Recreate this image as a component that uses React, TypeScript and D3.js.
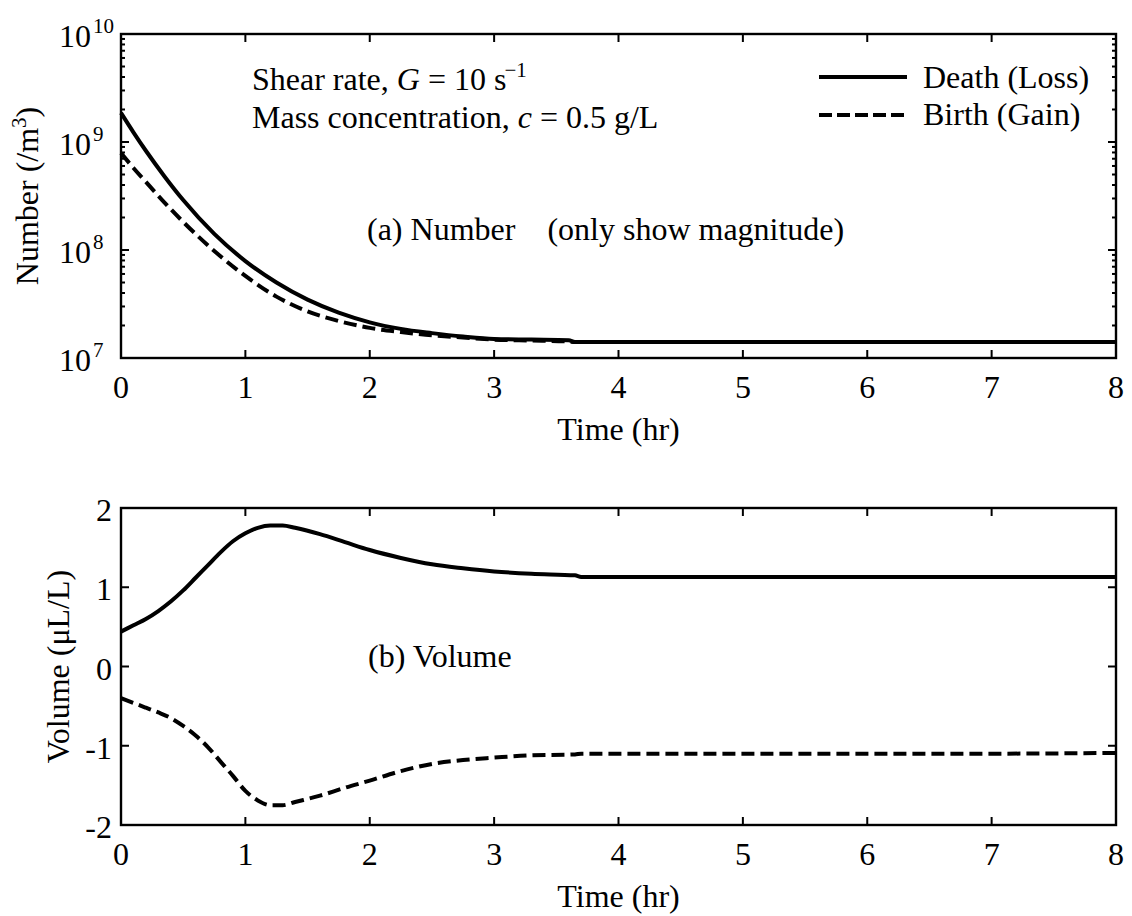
import React from "react";
import * as d3 from "d3";

// ---------- data ----------
const timeNumber = [0, 0.1, 0.2, 0.35, 0.5, 0.75, 1, 1.25, 1.5, 1.75, 2, 2.25, 2.5, 2.75, 3, 3.3, 3.6, 3.65, 4, 5, 6, 7, 8];
const deathNumber = [1.86e9, 1.23e9, 8.3e8, 4.8e8, 2.9e8, 1.41e8, 7.9e7, 5.0e7, 3.47e7, 2.63e7, 2.14e7, 1.86e7, 1.7e7, 1.58e7, 1.5e7, 1.48e7, 1.46e7, 1.41e7, 1.41e7, 1.41e7, 1.41e7, 1.41e7, 1.41e7];
const birthNumber = [7.9e8, 5.75e8, 4.27e8, 2.75e8, 1.82e8, 9.8e7, 5.75e7, 3.7e7, 2.7e7, 2.2e7, 1.9e7, 1.74e7, 1.62e7, 1.55e7, 1.48e7, 1.45e7, 1.42e7, 1.41e7, 1.41e7, 1.41e7, 1.41e7, 1.41e7, 1.41e7];

const timeVolume = [0, 0.1, 0.2, 0.3, 0.4, 0.5, 0.6, 0.7, 0.8, 0.9, 1.0, 1.1, 1.2, 1.3, 1.4, 1.6, 1.8, 2.0, 2.25, 2.5, 2.75, 3.0, 3.3, 3.65, 3.7, 4, 5, 6, 7, 8];
const deathVolume = [0.44, 0.52, 0.6, 0.7, 0.82, 0.96, 1.12, 1.28, 1.44, 1.58, 1.68, 1.75, 1.78, 1.78, 1.75, 1.67, 1.57, 1.47, 1.37, 1.29, 1.24, 1.2, 1.17, 1.15, 1.13, 1.13, 1.13, 1.13, 1.13, 1.13];
const birthVolume = [-0.4, -0.46, -0.52, -0.58, -0.65, -0.75, -0.87, -1.02, -1.2, -1.38, -1.57, -1.69, -1.75, -1.75, -1.71, -1.63, -1.53, -1.44, -1.32, -1.23, -1.18, -1.15, -1.12, -1.11, -1.1, -1.1, -1.1, -1.1, -1.1, -1.09];

const xTickValues = [0, 1, 2, 3, 4, 5, 6, 7, 8];
const logTickExponents = [7, 8, 9, 10];
const volumeTickValues = [-2, -1, 0, 1, 2];
const legendLabels = ["Death (Loss)", "Birth (Gain)"];

// ---------- layout ----------
const W = 1132;
const H = 916;
const X0 = 121;
const X1 = 1116;
const TOP = { y0: 34, y1: 358 };
const BOT = { y0: 508, y1: 825 };
const FONT = "'Liberation Serif', 'Times New Roman', serif";
const FS = 32;
const SUP = 21;
const DASH = "13,6";
const LW = 4;

const x = d3.scaleLinear().domain([0, 8]).range([X0, X1]);
const yTop = d3.scaleLog().domain([1e7, 1e10]).range([TOP.y1, TOP.y0]);
const yBot = d3.scaleLinear().domain([-2, 2]).range([BOT.y1, BOT.y0]);

const lineTop = d3
  .line<[number, number]>()
  .x((d) => x(d[0]))
  .y((d) => yTop(d[1]))
  .curve(d3.curveMonotoneX);
const lineBot = d3
  .line<[number, number]>()
  .x((d) => x(d[0]))
  .y((d) => yBot(d[1]))
  .curve(d3.curveMonotoneX);

const zip = (a: number[], b: number[]) => a.map((v, i) => [v, b[i]] as [number, number]);

const MAJ = 8;
const MIN = 4;

function Box({ y0, y1 }: { y0: number; y1: number }) {
  return (
    <rect x={X0} y={y0} width={X1 - X0} height={y1 - y0} fill="none" stroke="#000" strokeWidth={2.4} />
  );
}

function XTicks({ y0, y1 }: { y0: number; y1: number }) {
  return (
    <g stroke="#000" strokeWidth={2}>
      {xTickValues.slice(1, -1).map((t) => (
        <g key={t}>
          <line x1={x(t)} x2={x(t)} y1={y1} y2={y1 - MAJ} />
          <line x1={x(t)} x2={x(t)} y1={y0} y2={y0 + MAJ} />
        </g>
      ))}
    </g>
  );
}

function XLabels({ y1 }: { y1: number }) {
  return (
    <g fontFamily={FONT} fontSize={FS} textAnchor="middle" fill="#000">
      {xTickValues.map((t) => (
        <text key={t} x={x(t)} y={y1 + 40}>
          {t}
        </text>
      ))}
      <text x={(X0 + X1) / 2} y={y1 + 82}>
        Time (hr)
      </text>
    </g>
  );
}

export default function App() {
  const minorLog: number[] = [];
  for (const e of [7, 8, 9]) {
    for (let m = 2; m <= 9; m++) minorLog.push(m * Math.pow(10, e));
  }
  return (
    <svg
      width={W}
      height={H}
      viewBox={`0 0 ${W} ${H}`}
      style={{ position: "fixed", left: 0, top: 0, background: "#fff", display: "block" }}
    >
      <rect x={0} y={0} width={W} height={H} fill="#fff" />

      {/* ---------- top panel ---------- */}
      <Box y0={TOP.y0} y1={TOP.y1} />
      <XTicks y0={TOP.y0} y1={TOP.y1} />
      <g stroke="#000" strokeWidth={2}>
        {logTickExponents.map((e) => {
          const yy = yTop(Math.pow(10, e));
          return (
            <g key={e}>
              <line x1={X0} x2={X0 + MAJ} y1={yy} y2={yy} />
              <line x1={X1} x2={X1 - MAJ} y1={yy} y2={yy} />
            </g>
          );
        })}
        {minorLog.map((v) => (
          <g key={v}>
            <line x1={X0} x2={X0 + MIN} y1={yTop(v)} y2={yTop(v)} />
            <line x1={X1} x2={X1 - MIN} y1={yTop(v)} y2={yTop(v)} />
          </g>
        ))}
      </g>
      <g fontFamily={FONT} fill="#000">
        {logTickExponents.map((e) => {
          const yy = yTop(Math.pow(10, e));
          return (
            <g key={e}>
              <text x={91} y={yy + 13} fontSize={FS} textAnchor="end">
                10
              </text>
              <text x={93} y={yy - 1} fontSize={SUP} textAnchor="start">
                {e}
              </text>
            </g>
          );
        })}
      </g>
      <XLabels y1={TOP.y1} />
      <text
        transform={`translate(38,${(TOP.y0 + TOP.y1) / 2}) rotate(-90)`}
        fontFamily={FONT}
        fontSize={FS}
        textAnchor="middle"
        fill="#000"
      >
        Number (/m<tspan dy={-12} fontSize={SUP}>3</tspan>
        <tspan dy={12}>)</tspan>
      </text>

      <path d={lineTop(zip(timeNumber, deathNumber)) || ""} fill="none" stroke="#000" strokeWidth={LW} />
      <path
        d={lineTop(zip(timeNumber, birthNumber)) || ""}
        fill="none"
        stroke="#000"
        strokeWidth={LW}
        strokeDasharray={DASH}
      />

      {/* annotations */}
      <g fontFamily={FONT} fontSize={FS} fill="#000">
        <text x={252} y={90}>
          Shear rate, <tspan fontStyle="italic">G</tspan> = 10 s<tspan dx={-2} dy={-13} fontSize={SUP}>−1</tspan>
        </text>
        <text x={252} y={128}>
          Mass concentration, <tspan fontStyle="italic">c</tspan> = 0.5 g/L
        </text>
        <text x={367} y={240} xmlSpace="preserve">
          (a) Number{"    "}(only show magnitude)
        </text>
        <text x={368} y={667}>
          (b) Volume
        </text>
      </g>

      {/* legend */}
      <g fontFamily={FONT} fontSize={FS} fill="#000">
        <line x1={819} x2={907} y1={77} y2={77} stroke="#000" strokeWidth={LW} />
        <text x={923} y={88}>
          {legendLabels[0]}
        </text>
        <line x1={819} x2={907} y1={115} y2={115} stroke="#000" strokeWidth={LW} strokeDasharray="13,5" />
        <text x={923} y={125}>
          {legendLabels[1]}
        </text>
      </g>

      {/* ---------- bottom panel ---------- */}
      <Box y0={BOT.y0} y1={BOT.y1} />
      <XTicks y0={BOT.y0} y1={BOT.y1} />
      <g stroke="#000" strokeWidth={2}>
        {volumeTickValues.slice(1, -1).map((v) => (
          <g key={v}>
            <line x1={X0} x2={X0 + MAJ} y1={yBot(v)} y2={yBot(v)} />
            <line x1={X1} x2={X1 - MAJ} y1={yBot(v)} y2={yBot(v)} />
          </g>
        ))}
      </g>
      <g fontFamily={FONT} fontSize={FS} fill="#000" textAnchor="end">
        {volumeTickValues.map((v) => (
          <text key={v} x={112} y={yBot(v) + 13}>
            {v}
          </text>
        ))}
      </g>
      <XLabels y1={BOT.y1} />
      <text
        transform={`translate(69,${(BOT.y0 + BOT.y1) / 2}) rotate(-90)`}
        fontFamily={FONT}
        fontSize={FS}
        textAnchor="middle"
        fill="#000"
      >
        Volume (μL/L)
      </text>

      <path d={lineBot(zip(timeVolume, deathVolume)) || ""} fill="none" stroke="#000" strokeWidth={LW} />
      <path
        d={lineBot(zip(timeVolume, birthVolume)) || ""}
        fill="none"
        stroke="#000"
        strokeWidth={LW}
        strokeDasharray={DASH}
      />
    </svg>
  );
}
